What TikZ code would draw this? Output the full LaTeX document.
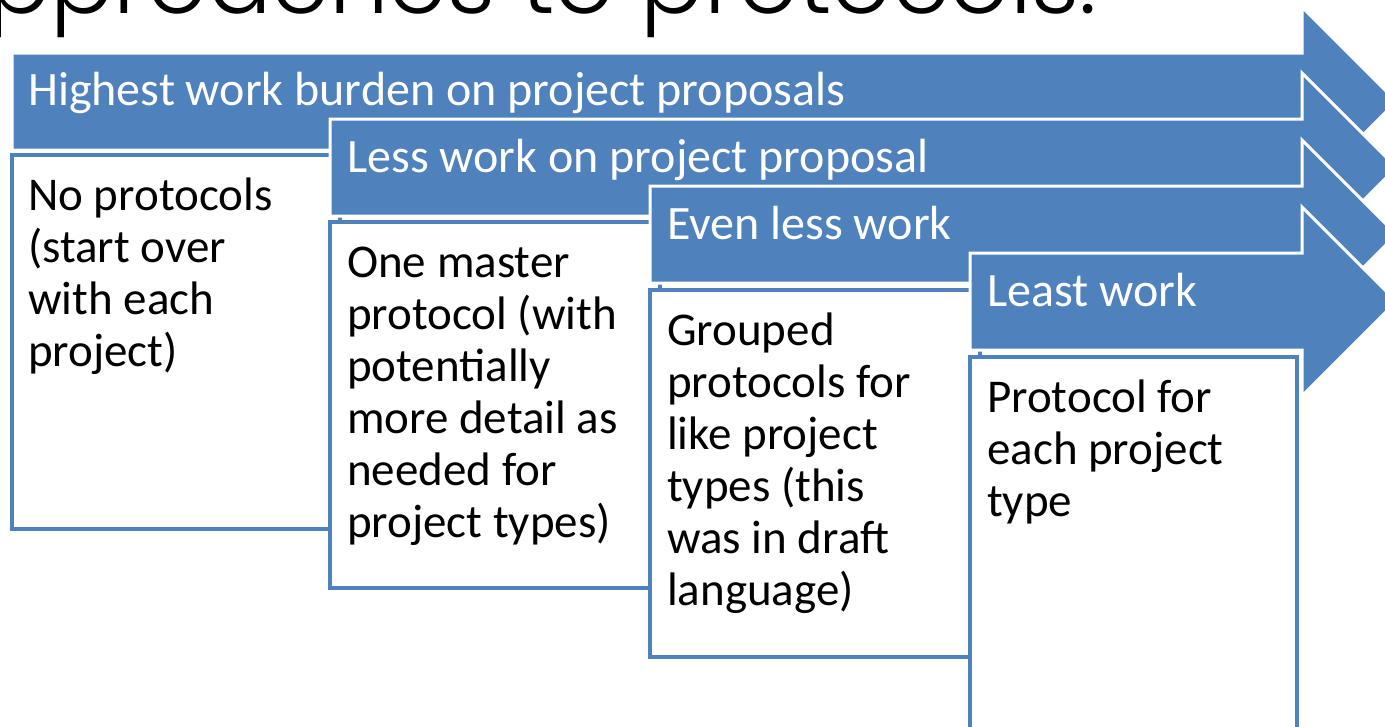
\documentclass[tikz,border=0pt]{standalone}
\usepackage{fontspec}
\setmainfont{Carlito}
\IfFontExistsTF{Poppins Light}{\newfontfamily\ttlfont{Poppins Light}}{\newfontfamily\ttlfont{Poppins}}
\definecolor{stageblue}{HTML}{4F81BD}

% one stage arrow: #1 = left edge of the shaft, #2 = top edge of the shaft
\newcommand\stageshaft[2]{%
  \draw[stagearrow] (#1,#2) -- (1302,#2) -- (1302,#2-46) -- (1396.5,#2+48.5)
    -- (1302,#2+143) -- (1302,#2+97) -- (#1,#2+97) -- cycle;}
% card text block, aligned on the baseline of its first line
\newcommand\cardlines[1]{\parbox[t]{300pt}{\raggedright\fontsize{47}{52}\selectfont #1}}

\begin{document}
\begin{tikzpicture}[x=1pt,y=-1pt,
  stagearrow/.style={fill=stageblue, draw=white, line width=3pt, line join=miter},
  card/.style={fill=white, draw=stageblue, line width=4.5pt},
  headtxt/.style={anchor=base west, inner sep=0pt, text=white, font=\fontsize{48}{52}\selectfont},
  cardtxt/.style={anchor=base west, inner sep=0pt, text=black}]
\useasboundingbox (0,0) rectangle (1385,726);
\clip (0,0) rectangle (1385,726);

\node[anchor=base east, inner sep=0pt, font=\ttlfont\fontsize{94}{94}\selectfont] (title) at (1097,13) {Approaches to protocols.};

% stage 1
\stageshaft{12}{53}
\node[headtxt] (h1) at (28,105) {Highest work burden on project proposals};
\draw[card] (12,155) rectangle (340,529);
\node[cardtxt] (c1) at (28,210) {\cardlines{No protocols\\(start over\\with each\\project)}};

% stage 2
\stageshaft{330}{119}
\node[headtxt] (h2) at (347,172) {Less work on project proposal};
\draw[card] (330,222) rectangle (660,588);
\node[cardtxt] (c2) at (347,277) {\cardlines{One master\\protocol (with\\potentially\\more detail as\\needed for\\project types)}};

% stage 3
\stageshaft{650}{186}
\node[headtxt] (h3) at (667,239) {Even less work};
\draw[card] (650,290) rectangle (980,657);
\node[cardtxt] (c3) at (667,345) {\cardlines{Grouped\\protocols for\\like project\\types (this\\was in draft\\language)}};

% stage 4
\stageshaft{970}{253}
\node[headtxt] (h4) at (987,306) {Least work};
\draw[card] (970,357) rectangle (1297,740);
\node[cardtxt] (c4) at (987,412) {\cardlines{Protocol for\\each project\\type}};
\end{tikzpicture}
\end{document}
